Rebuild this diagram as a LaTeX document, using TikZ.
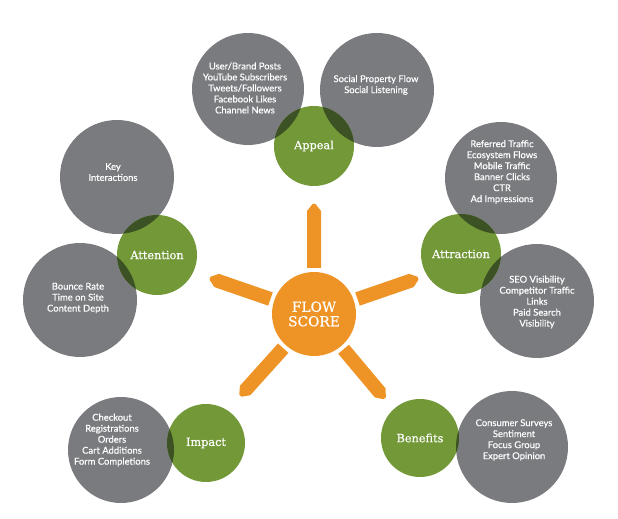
\documentclass[tikz,border=0pt]{standalone}
\usepackage{fontspec}
\setmainfont{Lato}[FakeBold=0.5]
\newfontfamily\slabfont{DejaVu Serif}[FakeBold=0.4]
\usepackage{tikz}
\usetikzlibrary{positioning,calc}

\definecolor{ballgray}{RGB}{122,123,127}
\definecolor{ballgreen}{RGB}{114,152,56}
\definecolor{overlapgreen}{RGB}{60,82,36}
\definecolor{floworange}{RGB}{238,148,38}

\begin{document}
\begin{tikzpicture}[x=1pt,y=1pt,
  grayball/.style={circle,fill=ballgray,minimum size=#1,inner sep=0pt},
  greenball/.style={circle,fill=ballgreen,minimum size=#1,inner sep=0pt},
  greentxt/.style={text=white,inner sep=0pt,font=\slabfont\fontsize{11.3}{12}\selectfont},
  graytxt/.style={text=white,align=center,inner sep=0pt,
    font=\fontsize{9.4}{11}\selectfont}]
  \useasboundingbox (0,0) rectangle (618,519);

  % orange spokes
  \foreach \ang in {90,19,-50,-132,161}
    \fill[floworange,shift={(314,205)},rotate=\ang]
      (46,-7) -- (103,-7) -- (110,-1.5) -- (110,1.5) -- (103,7) -- (46,7) -- cycle;
  \node[circle,fill=floworange,minimum size=84,inner sep=0pt,text=white,align=center,
    font=\slabfont\fontsize{13.8}{14.5}\selectfont] (score) at (314,205) {FLOW\\SCORE};

  \node[grayball=112] (appealA) at (248,430) {};
  \node[grayball=114] (appealB) at (377,429) {};
  \node[grayball=112] (attractA) at (501,341) {};
  \node[grayball=114] (attractB) at (537,218) {};
  \node[grayball=114] (attentA) at (117,342) {};
  \node[grayball=114] (attentB) at (80,219) {};
  \node[grayball=106] (impactA) at (121,69) {};
  \node[grayball=112] (benefitA) at (512,72) {};

  \node[greenball=80] (appeal) at (314,373) {};
  \node[greenball=80] (attraction) at (461,265) {};
  \node[greenball=80] (attention) at (157,264) {};
  \node[greenball=78] (impact) at (206,76) {};
  \node[greenball=78] (benefits) at (420,81) {};

  \foreach \g/\gr/\b/\br in {appeal/40/appealA/56,appeal/40/appealB/57,
      attraction/40/attractA/56,attraction/40/attractB/57,
      attention/40/attentA/57,attention/40/attentB/57,
      impact/39/impactA/53,benefits/39/benefitA/56}
  {
    \begin{scope}
      \clip (\g.center) circle (\gr);
      \fill[overlapgreen] (\b.center) circle (\br);
    \end{scope}
  }

  \node[greentxt] (appealLbl) at (appeal.center) {Appeal};
  \node[greentxt] (attractionLbl) at (attraction.center) {Attraction};
  \node[greentxt] (attentionLbl) at (attention.center) {Attention};
  \node[greentxt] (impactLbl) at (impact.center) {Impact};
  \node[greentxt] (benefitsLbl) at (benefits.center) {Benefits};

  \node[graytxt] (appealAtxt) at (245,431)
    {User/Brand Posts\\YouTube Subscribers\\Tweets/Followers\\Facebook Likes\\Channel News};
  \node[graytxt] (appealBtxt) at (376,434) {Social Property Flow\\Social Listening};
  \node[graytxt] (attractAtxt) at (502,347)
    {Referred Traffic\\Ecosystem Flows\\Mobile Traffic\\Banner Clicks\\CTR\\Ad Impressions};
  \node[graytxt] (attractBtxt) at (537,217)
    {SEO Visibility\\Competitor Traffic\\Links\\Paid Search\\Visibility};
  \node[graytxt] (attentAtxt) at (113,347) {Key\\Interactions};
  \node[graytxt] (attentBtxt) at (78,221) {Bounce Rate\\Time on Site\\Content Depth};
  \node[graytxt] (impactAtxt) at (112,79)
    {Checkout\\Registrations\\Orders\\Cart Additions\\Form Completions};
  \node[graytxt] (benefitAtxt) at (514,79)
    {Consumer Surveys\\Sentiment\\Focus Group\\Expert Opinion};
\end{tikzpicture}
\end{document}
